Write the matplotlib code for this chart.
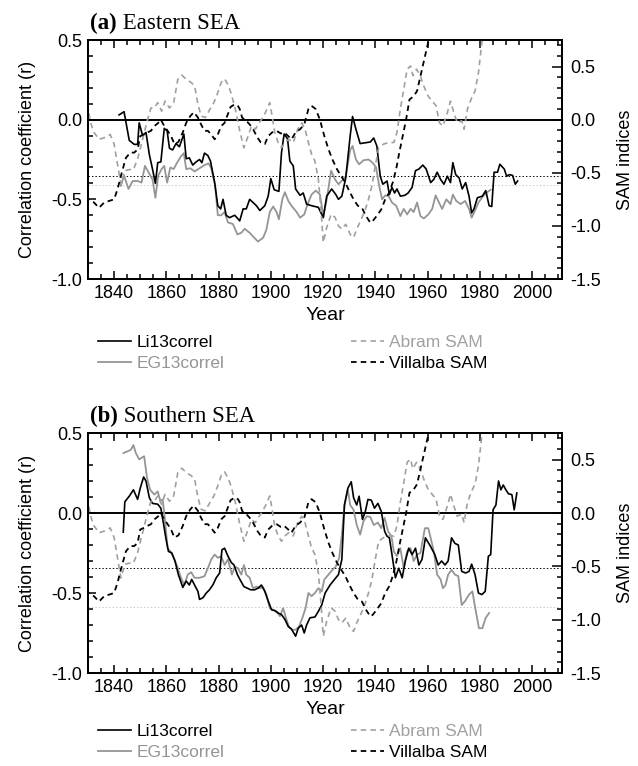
import numpy as np
import matplotlib
matplotlib.use("Agg")
import matplotlib.pyplot as plt
from matplotlib.ticker import MultipleLocator, FormatStrFormatter

plt.rcParams["font.family"] = ["Liberation Sans", "DejaVu Sans"]
plt.rcParams["axes.unicode_minus"] = False
plt.rcParams["lines.scale_dashes"] = False

# ---- SAM indices (same in both panels, right axis) ----
abram_yr = [1829.1, 1831.0, 1832.3, 1834.2, 1836.2, 1838.5, 1840.0, 1841.3, 1842.6, 1844.1,
            1845.8, 1847.4, 1849.0, 1850.9, 1852.8, 1854.1, 1855.4, 1856.7, 1858.2, 1859.5,
            1861.2, 1862.8, 1864.4, 1865.9, 1867.6, 1869.5, 1870.8, 1872.1, 1873.3, 1874.9,
            1876.5, 1878.2, 1879.7, 1881.0, 1882.3, 1883.8, 1884.9, 1886.4, 1888.1, 1889.7,
            1891.3, 1892.6, 1894.1, 1895.1, 1896.4, 1897.9, 1899.6, 1900.5, 1901.5, 1902.8,
            1904.1, 1905.4, 1906.9, 1908.6, 1910.3, 1911.8, 1913.1, 1914.4, 1915.6, 1916.9,
            1918.2, 1919.2, 1920.1, 1921.4, 1923.1, 1924.6, 1925.9, 1927.2, 1928.7, 1930.4,
            1931.7, 1932.9, 1934.6, 1936.2, 1937.4, 1938.7, 1940.0, 1941.3, 1943.2, 1945.1,
            1947.1, 1948.3, 1949.6, 1950.9, 1952.2, 1953.5, 1954.4, 1955.8, 1957.3, 1958.6,
            1960.3, 1961.8, 1963.3, 1964.6, 1965.9, 1967.6, 1968.8, 1970.1, 1971.4, 1973.1,
            1974.0, 1975.3, 1976.9, 1978.2, 1979.5, 1980.8, 1982.1, 1983.6, 1984.4, 1985.5]
abram_sam = [0.24, -0.03, -0.12, -0.185, -0.17, -0.14, -0.23, -0.42, -0.61, -0.48,
             -0.47, -0.47, -0.37, -0.185, 0.0, 0.11, 0.11, 0.16, 0.08, 0.175,
             0.11, 0.16, 0.38, 0.42, 0.38, 0.35, 0.32, 0.145, 0.035, 0.02,
             0.09, 0.16, 0.255, 0.35, 0.385, 0.32, 0.24, 0.10, -0.105, -0.265,
             -0.155, -0.06, -0.09, -0.045, 0.0, 0.065, 0.16, 0.035, -0.12, -0.215,
             -0.265, -0.215, -0.185, -0.215, -0.09, -0.03, -0.09, -0.215, -0.325, -0.39,
             -0.56, -0.845, -1.155, -1.015, -0.89, -0.92, -1.0, -1.03, -0.985, -1.08,
             -1.11, -1.03, -0.94, -0.845, -0.75, -0.625, -0.435, -0.265, -0.23, -0.215,
             -0.215, -0.12, 0.10, 0.285, 0.475, 0.505, 0.415, 0.475, 0.41, 0.315,
             0.22, 0.175, 0.13, -0.03, -0.06, 0.065, 0.175, 0.065, -0.03, -0.01,
             -0.09, 0.10, 0.205, 0.27, 0.44, 0.725, 0.90, 0.80, 0.745, 0.90]

vill_yr = [1828.5, 1830.4, 1832.3, 1834.2, 1836.2, 1838.1, 1840.0, 1841.3, 1842.6, 1844.5,
           1846.2, 1847.7, 1849.0, 1850.0, 1851.3, 1852.8, 1854.1, 1855.4, 1856.7, 1857.9,
           1859.2, 1860.5, 1861.8, 1863.1, 1864.6, 1866.3, 1867.6, 1869.2, 1870.5, 1872.1,
           1873.3, 1874.6, 1875.9, 1877.2, 1878.5, 1879.7, 1881.0, 1882.3, 1883.3, 1884.6,
           1886.2, 1887.4, 1888.1, 1889.0, 1890.6, 1891.9, 1893.2, 1894.9, 1896.2, 1897.7,
           1899.0, 1900.5, 1902.2, 1903.8, 1905.1, 1906.7, 1907.9, 1909.5, 1911.2, 1912.8,
           1914.4, 1915.6, 1917.2, 1918.8, 1920.5, 1922.1, 1923.6, 1925.3, 1926.9, 1928.5,
           1930.0, 1931.7, 1933.3, 1934.9, 1936.4, 1938.1, 1939.0, 1940.6, 1942.3, 1943.8,
           1945.4, 1946.7, 1948.0, 1949.2, 1950.5, 1951.8, 1953.1, 1954.7, 1956.0, 1957.3,
           1958.6, 1959.9, 1961.2]
vill_sam = [-0.75, -0.75, -0.78, -0.83, -0.78, -0.765, -0.75, -0.655, -0.53, -0.36,
            -0.31, -0.31, -0.28, -0.155, -0.14, -0.12, -0.105, -0.06, -0.035, 0.0,
            -0.06, -0.105, -0.155, -0.23, -0.21, -0.12, -0.03, 0.035, 0.07, 0.02,
            -0.045, -0.105, -0.105, -0.14, -0.185, -0.14, -0.06, -0.03, 0.035, 0.12,
            0.145, 0.13, 0.10, 0.02, -0.01, -0.045, -0.09, -0.17, -0.215, -0.23,
            -0.155, -0.12, -0.105, -0.13, -0.12, -0.155, -0.185, -0.12, -0.09, -0.045,
            0.10, 0.13, 0.10, 0.0, -0.155, -0.28, -0.375, -0.465, -0.53, -0.59,
            -0.67, -0.75, -0.81, -0.83, -0.905, -0.97, -0.955, -0.905, -0.845, -0.75,
            -0.685, -0.59, -0.465, -0.31, -0.155, 0.0, 0.19, 0.22, 0.27, 0.41,
            0.55, 0.69, 0.82]

# ---- (a) Eastern SEA correlations ----
a_li_yr = [1841.9, 1843.8, 1845.8, 1847.7, 1849.0, 1849.6, 1850.9, 1852.2, 1853.5, 1854.7,
           1855.8, 1856.7, 1857.9, 1859.2, 1860.3, 1861.2, 1862.4, 1863.7, 1865.0, 1866.7,
           1867.6, 1868.8, 1870.1, 1871.4, 1872.7, 1873.6, 1874.6, 1875.9, 1876.9, 1878.5,
           1879.7, 1880.8, 1881.7, 1882.9, 1884.2, 1886.2, 1888.1, 1889.4, 1890.6, 1891.9,
           1893.2, 1894.5, 1895.8, 1897.7, 1899.0, 1900.0, 1901.3, 1903.1, 1904.1, 1905.1,
           1906.4, 1907.3, 1908.6, 1909.5, 1911.2, 1912.4, 1913.7, 1915.6, 1918.2, 1920.1,
           1921.4, 1923.3, 1924.9, 1925.9, 1927.2, 1928.7, 1930.4, 1931.3, 1932.6, 1934.2,
           1936.2, 1938.1, 1939.4, 1940.6, 1941.9, 1942.9, 1944.5, 1945.4, 1946.4, 1947.4,
           1948.3, 1949.6, 1951.3, 1952.6, 1954.1, 1955.4, 1956.7, 1958.2, 1959.5, 1961.2,
           1962.4, 1963.7, 1965.0, 1966.3, 1967.6, 1968.8, 1969.7, 1970.8, 1972.1, 1973.3,
           1974.6, 1975.9, 1976.9, 1977.8, 1979.1, 1981.0, 1982.3, 1983.6, 1984.6, 1985.5,
           1986.8, 1987.7, 1989.4, 1990.3, 1991.3, 1992.6, 1993.6, 1994.5]
a_li_r = [0.03, 0.05, -0.13, -0.155, -0.155, -0.02, -0.10, -0.08, -0.22, -0.31,
          -0.40, -0.27, -0.265, -0.055, -0.07, -0.18, -0.19, -0.15, -0.17, -0.09,
          -0.245, -0.24, -0.285, -0.265, -0.25, -0.27, -0.21, -0.225, -0.26, -0.395,
          -0.54, -0.56, -0.50, -0.60, -0.615, -0.60, -0.635, -0.56, -0.56, -0.50,
          -0.52, -0.54, -0.57, -0.54, -0.48, -0.37, -0.44, -0.45, -0.205, -0.09,
          -0.12, -0.26, -0.29, -0.435, -0.475, -0.46, -0.53, -0.54, -0.55, -0.615,
          -0.48, -0.435, -0.47, -0.50, -0.48, -0.365, -0.10, 0.02, -0.06, -0.15,
          -0.145, -0.14, -0.115, -0.165, -0.355, -0.405, -0.385, -0.47, -0.425, -0.46,
          -0.435, -0.48, -0.475, -0.46, -0.425, -0.32, -0.31, -0.285, -0.31, -0.395,
          -0.375, -0.33, -0.375, -0.405, -0.355, -0.395, -0.27, -0.345, -0.365, -0.435,
          -0.395, -0.48, -0.585, -0.56, -0.49, -0.48, -0.445, -0.54, -0.545, -0.33,
          -0.33, -0.28, -0.31, -0.355, -0.345, -0.35, -0.405, -0.385]

a_eg_yr = [1842.6, 1843.8, 1845.5, 1847.1, 1849.0, 1850.5, 1851.8, 1853.5, 1854.7, 1855.8,
           1856.9, 1858.2, 1859.2, 1860.3, 1861.5, 1862.8, 1864.1, 1865.6, 1866.7, 1867.6,
           1869.2, 1870.8, 1872.7, 1874.6, 1876.2, 1877.2, 1878.7, 1879.7, 1881.0, 1882.3,
           1883.6, 1885.5, 1887.2, 1888.7, 1890.0, 1891.9, 1893.6, 1895.1, 1897.1, 1898.3,
           1899.6, 1900.9, 1902.2, 1903.1, 1904.4, 1905.4, 1906.7, 1907.9, 1909.9, 1911.2,
           1912.8, 1914.1, 1915.6, 1917.2, 1918.8, 1920.1, 1921.4, 1923.1, 1924.6, 1925.9,
           1927.4, 1928.7, 1930.4, 1931.3, 1932.6, 1933.8, 1935.5, 1937.4, 1939.0, 1940.3,
           1941.5, 1942.6, 1943.8, 1945.1, 1946.4, 1948.0, 1949.6, 1950.9, 1952.2, 1953.5,
           1954.7, 1956.0, 1957.3, 1958.6, 1960.3, 1961.8, 1963.1, 1964.4, 1965.6, 1967.2,
           1968.8, 1969.7, 1971.0, 1972.7, 1974.4, 1975.9, 1976.9, 1978.2, 1979.5, 1981.3,
           1982.9, 1984.2]
a_eg_r = [-0.415, -0.35, -0.435, -0.385, -0.385, -0.395, -0.29, -0.34, -0.375, -0.49,
          -0.35, -0.31, -0.29, -0.395, -0.30, -0.31, -0.27, -0.23, -0.21, -0.31,
          -0.305, -0.325, -0.305, -0.285, -0.275, -0.305, -0.415, -0.60, -0.60, -0.58,
          -0.645, -0.655, -0.72, -0.71, -0.685, -0.71, -0.74, -0.765, -0.74, -0.69,
          -0.58, -0.545, -0.58, -0.625, -0.50, -0.455, -0.51, -0.54, -0.58, -0.615,
          -0.595, -0.53, -0.47, -0.445, -0.47, -0.605, -0.50, -0.32, -0.375, -0.405,
          -0.38, -0.355, -0.19, -0.165, -0.25, -0.28, -0.255, -0.25, -0.27, -0.30,
          -0.415, -0.50, -0.475, -0.48, -0.52, -0.54, -0.605, -0.56, -0.595, -0.56,
          -0.58, -0.52, -0.605, -0.62, -0.595, -0.56, -0.475, -0.52, -0.56, -0.50,
          -0.53, -0.47, -0.51, -0.53, -0.51, -0.56, -0.615, -0.57, -0.52, -0.48,
          -0.455, -0.44]

# ---- (b) Southern SEA correlations ----
b_li_yr = [1843.5, 1844.1, 1845.8, 1847.4, 1849.0, 1850.0, 1851.3, 1852.2, 1853.5, 1854.7,
           1856.7, 1857.9, 1859.0, 1859.9, 1860.8, 1862.1, 1863.3, 1864.6, 1866.3, 1867.6,
           1868.8, 1869.7, 1870.8, 1872.1, 1872.7, 1874.0, 1875.3, 1876.5, 1877.8, 1879.1,
           1880.4, 1881.3, 1882.3, 1883.6, 1884.9, 1885.9, 1887.2, 1888.5, 1889.7, 1891.0,
           1892.3, 1893.8, 1895.1, 1896.4, 1897.7, 1899.0, 1900.3, 1901.5, 1902.8, 1904.1,
           1905.4, 1906.7, 1907.9, 1909.5, 1910.5, 1911.8, 1912.8, 1913.7, 1915.0, 1916.9,
           1918.2, 1919.5, 1920.8, 1922.7, 1924.4, 1925.9, 1927.2, 1928.2, 1929.5, 1930.8,
           1931.7, 1932.9, 1933.8, 1935.1, 1936.2, 1937.2, 1938.5, 1939.7, 1941.0, 1942.3,
           1943.6, 1944.5, 1945.4, 1946.4, 1947.7, 1949.0, 1950.3, 1951.5, 1952.8, 1954.1,
           1955.4, 1956.7, 1957.9, 1959.2, 1961.2, 1962.8, 1964.1, 1965.4, 1966.7, 1967.9,
           1969.2, 1970.5, 1971.8, 1973.1, 1974.6, 1975.9, 1976.9, 1978.2, 1979.5, 1980.8,
           1982.1, 1983.3, 1984.2, 1985.1, 1986.2, 1987.2, 1988.1, 1989.0, 1990.0, 1991.0,
           1992.3, 1993.2, 1994.2]
b_li_r = [-0.12, 0.07, 0.105, 0.145, 0.085, 0.155, 0.225, 0.20, 0.095, 0.06,
          0.055, 0.03, -0.075, -0.165, -0.24, -0.25, -0.30, -0.385, -0.465, -0.425,
          -0.45, -0.415, -0.45, -0.49, -0.54, -0.53, -0.50, -0.48, -0.45, -0.405,
          -0.375, -0.23, -0.22, -0.27, -0.31, -0.325, -0.385, -0.425, -0.46, -0.47,
          -0.48, -0.48, -0.47, -0.45, -0.49, -0.55, -0.605, -0.61, -0.625, -0.635,
          -0.665, -0.71, -0.725, -0.77, -0.72, -0.70, -0.75, -0.70, -0.655, -0.65,
          -0.615, -0.575, -0.50, -0.45, -0.415, -0.385, -0.29, 0.05, 0.155, 0.195,
          0.095, 0.05, 0.105, -0.04, 0.01, 0.085, 0.08, 0.03, 0.06, 0.01,
          -0.115, -0.145, -0.155, -0.26, -0.405, -0.345, -0.405, -0.30, -0.22, -0.26,
          -0.22, -0.325, -0.29, -0.155, -0.21, -0.26, -0.325, -0.30, -0.325, -0.30,
          -0.155, -0.19, -0.20, -0.365, -0.375, -0.365, -0.32, -0.385, -0.50, -0.51,
          -0.49, -0.27, -0.26, 0.02, 0.05, 0.20, 0.145, 0.175, 0.145, 0.12,
          0.115, 0.02, 0.125]

b_eg_yr = [1843.6, 1845.1, 1846.4, 1847.4, 1848.3, 1849.6, 1850.5, 1851.5, 1852.6, 1853.8,
           1855.4, 1856.7, 1857.7, 1858.6, 1859.5, 1860.5, 1861.8, 1863.1, 1864.4, 1865.6,
           1866.9, 1868.2, 1869.5, 1870.8, 1872.7, 1874.6, 1875.9, 1877.2, 1878.5, 1879.7,
           1881.0, 1882.3, 1883.6, 1885.1, 1886.2, 1887.4, 1888.7, 1889.7, 1890.6, 1891.9,
           1893.2, 1894.5, 1895.8, 1897.1, 1898.3, 1899.6, 1900.9, 1902.2, 1903.5, 1904.7,
           1905.8, 1906.9, 1908.2, 1909.5, 1910.8, 1912.1, 1913.3, 1914.4, 1915.6, 1916.9,
           1918.2, 1919.5, 1920.5, 1922.1, 1923.6, 1924.9, 1926.2, 1927.2, 1928.2, 1929.5,
           1930.4, 1931.7, 1932.9, 1934.2, 1935.5, 1936.8, 1938.1, 1939.4, 1941.0, 1942.3,
           1943.6, 1944.9, 1946.2, 1947.1, 1948.3, 1949.6, 1950.9, 1952.2, 1953.5, 1954.7,
           1956.0, 1957.3, 1959.0, 1960.3, 1961.2, 1962.4, 1963.7, 1965.0, 1965.9, 1966.9,
           1967.9, 1969.2, 1970.5, 1971.8, 1973.1, 1974.4, 1975.9, 1977.2, 1978.5, 1979.7,
           1981.0, 1982.3, 1983.6]
b_eg_r = [0.375, 0.385, 0.395, 0.425, 0.375, 0.335, 0.345, 0.355, 0.22, 0.145,
          0.115, 0.135, 0.075, 0.085, -0.05, -0.22, -0.245, -0.29, -0.345, -0.405,
          -0.45, -0.385, -0.37, -0.405, -0.405, -0.395, -0.345, -0.29, -0.26, -0.28,
          -0.27, -0.325, -0.29, -0.385, -0.335, -0.345, -0.385, -0.325, -0.385, -0.405,
          -0.47, -0.46, -0.47, -0.465, -0.51, -0.595, -0.605, -0.615, -0.645, -0.595,
          -0.655, -0.71, -0.73, -0.73, -0.71, -0.655, -0.595, -0.50, -0.52, -0.50,
          -0.47, -0.49, -0.415, -0.385, -0.355, -0.335, -0.28, -0.135, 0.05, 0.145,
          0.05, 0.02, -0.075, -0.135, -0.05, -0.02, -0.025, -0.075, -0.06, -0.095,
          -0.03, -0.115, -0.145, -0.24, -0.27, -0.22, -0.345, -0.24, -0.22, -0.30,
          -0.26, -0.25, -0.095, -0.095, -0.155, -0.24, -0.385, -0.415, -0.47, -0.45,
          -0.385, -0.355, -0.385, -0.395, -0.575, -0.55, -0.51, -0.49, -0.615, -0.72,
          -0.72, -0.655, -0.625]

# significance levels (dotted lines)
a_sig = [-0.353, -0.413]
b_sig = [-0.344, -0.588]

GRAY = "#959595"
GRAY_D = "#a0a0a0"
W, H = 638, 766


def panel(rect, li_yr, li_r, eg_yr, eg_r, sig, tag, name, legend_top):
    ax = fig.add_axes(rect)
    ax2 = ax.twinx()

    ax.axhline(0, color="k", lw=1.4, zorder=1)
    ax.axhline(sig[0], color="k", lw=0.7, ls=(0, (1, 1.5)), zorder=1)
    ax.axhline(sig[1], color="#c8c8c8", lw=0.7, ls=(0, (1, 1.5)), zorder=1)

    ax.plot(eg_yr, eg_r, color=GRAY, lw=1.3, label="EG13correl", zorder=3)
    ax.plot(li_yr, li_r, color="k", lw=1.2, label="Li13correl", zorder=4)
    ax2.plot(abram_yr, abram_sam, color=GRAY_D, lw=1.2, dashes=(4, 3), label="Abram SAM")
    ax2.plot(vill_yr, vill_sam, color="k", lw=1.3, dashes=(4, 3), label="Villalba SAM")

    ax.set_xlim(1830, 2011.5)
    ax.set_ylim(-1.0, 0.5)
    ax2.set_ylim(-1.5, 0.75)

    ax.xaxis.set_major_locator(MultipleLocator(20))
    ax.xaxis.set_minor_locator(MultipleLocator(5))
    for a in (ax, ax2):
        a.yaxis.set_major_locator(MultipleLocator(0.5))
        a.yaxis.set_minor_locator(MultipleLocator(0.1))
        a.yaxis.set_major_formatter(FormatStrFormatter("%.1f"))
        for s in a.spines.values():
            s.set_linewidth(1.4)
    ax.tick_params(which="both", direction="in", top=True, right=False,
                   labelsize=13, width=1.1, pad=4)
    ax.tick_params(which="major", length=6)
    ax.tick_params(which="minor", length=3.5)
    ax2.tick_params(which="both", direction="in", labelsize=13, width=1.1, pad=6)
    ax2.tick_params(which="major", length=7)
    ax2.tick_params(which="minor", length=3.5)

    ax.set_xlabel("Year", fontsize=14)
    ax.xaxis.set_label_coords(0.5, -0.118)
    ax.set_ylabel("Correlation coefficient (r)", fontsize=13)
    ax.yaxis.set_label_coords(-0.11, 0.5)
    ax2.set_ylabel("SAM indices", fontsize=13)
    ax2.yaxis.set_label_coords(1.115, 0.5)

    t = ax.text(0.004, 1.045, tag, transform=ax.transAxes, fontsize=16.5,
                fontweight="bold", family=["Liberation Serif", "DejaVu Serif"],
                va="baseline", ha="left")
    ax.annotate(" " + name, xy=(1, 0), xycoords=t, fontsize=16.5,
                family=["Liberation Serif", "DejaVu Serif"], va="bottom", ha="left")

    h1, l1 = ax.get_legend_handles_labels()
    h2, l2 = ax2.get_legend_handles_labels()
    handles = [h1[1], h1[0], h2[0], h2[1]]
    labels = [l1[1], l1[0], l2[0], l2[1]]
    fig.legend(handles, labels, ncol=2, loc="upper left",
               bbox_to_anchor=(98 / W, 1 - legend_top / H), frameon=False,
               fontsize=12.5, handlelength=1.9, handletextpad=0.3,
               columnspacing=7.3, labelspacing=0.35, borderpad=0, borderaxespad=0,
               labelcolor="linecolor")
    return ax


fig = plt.figure(figsize=(W / 100, H / 100), dpi=100)
panel([88 / W, 1 - 279 / H, 474 / W, 239 / H], a_li_yr, a_li_r, a_eg_yr, a_eg_r,
      a_sig, "(a)", "Eastern SEA", 335)
panel([88 / W, 1 - 673 / H, 474 / W, 240 / H], b_li_yr, b_li_r, b_eg_yr, b_eg_r,
      b_sig, "(b)", "Southern SEA", 724)

fig.savefig("out.png", dpi=100)
